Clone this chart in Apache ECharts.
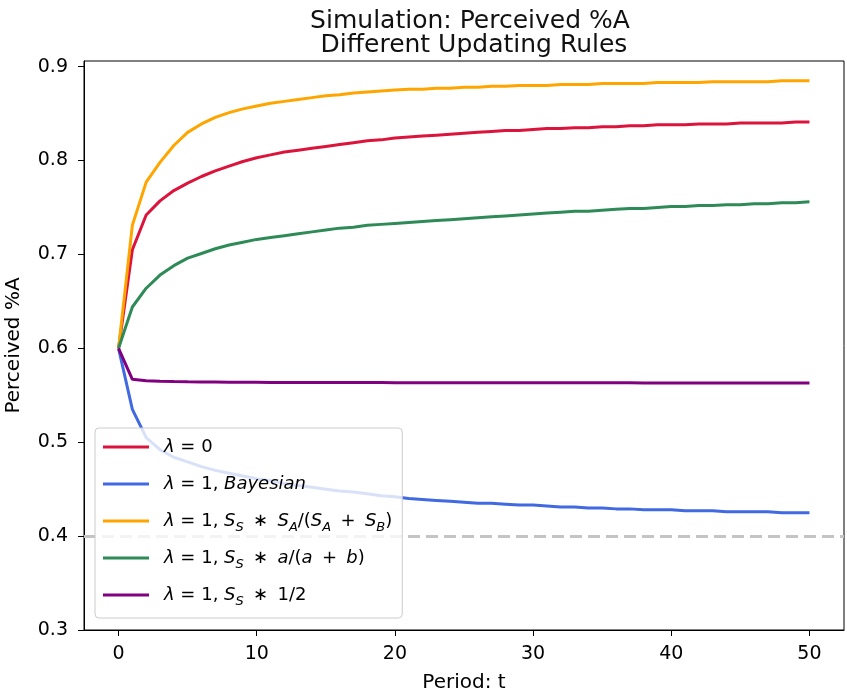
<!DOCTYPE html>
<html>
<head>
<meta charset="utf-8">
<script src="https://cdn.jsdelivr.net/npm/echarts@6/dist/echarts.min.js"></script>
<style>html,body{margin:0;padding:0;background:#fff}#c{width:847px;height:695px}</style>
</head>
<body>
<div id="c"></div>
<script>
// ---- data ----
const periods = [0,1,2,3,4,5,6,7,8,9,10,11,12,13,14,15,16,17,18,19,20,21,22,23,24,25,26,27,28,29,30,31,32,33,34,35,36,37,38,39,40,41,42,43,44,45,46,47,48,49,50];
const lambda0 = [0.600,0.705,0.742,0.757,0.768,0.776,0.783,0.789,0.794,0.799,0.803,0.806,0.809,0.811,0.813,0.815,0.817,0.819,0.821,0.822,0.824,0.825,0.826,0.827,0.828,0.829,0.830,0.831,0.832,0.832,0.833,0.834,0.834,0.835,0.835,0.836,0.836,0.837,0.837,0.838,0.838,0.838,0.839,0.839,0.839,0.840,0.840,0.840,0.840,0.841,0.841];
const bayesian = [0.600,0.535,0.505,0.492,0.484,0.479,0.474,0.470,0.467,0.464,0.461,0.459,0.456,0.454,0.452,0.450,0.448,0.447,0.445,0.443,0.442,0.440,0.439,0.438,0.437,0.436,0.435,0.435,0.434,0.433,0.433,0.432,0.431,0.431,0.430,0.430,0.429,0.429,0.428,0.428,0.428,0.427,0.427,0.427,0.426,0.426,0.426,0.426,0.425,0.425,0.425];
const ssSa = [0.600,0.731,0.777,0.798,0.816,0.830,0.839,0.846,0.851,0.855,0.858,0.861,0.863,0.865,0.867,0.869,0.870,0.872,0.873,0.874,0.875,0.876,0.876,0.877,0.877,0.878,0.878,0.879,0.879,0.880,0.880,0.880,0.881,0.881,0.881,0.882,0.882,0.882,0.882,0.883,0.883,0.883,0.883,0.884,0.884,0.884,0.884,0.884,0.885,0.885,0.885];
const ssAB = [0.600,0.644,0.664,0.678,0.688,0.696,0.701,0.706,0.710,0.713,0.716,0.718,0.720,0.722,0.724,0.726,0.728,0.729,0.731,0.732,0.733,0.734,0.735,0.736,0.737,0.738,0.739,0.740,0.741,0.742,0.743,0.744,0.745,0.746,0.746,0.747,0.748,0.749,0.749,0.750,0.751,0.751,0.752,0.752,0.753,0.753,0.754,0.754,0.755,0.755,0.756];
const ssHalf = [0.600,0.567,0.5655,0.565,0.5646,0.5643,0.5641,0.5640,0.5639,0.5638,0.5638,0.5637,0.5637,0.5636,0.5636,0.5636,0.5635,0.5635,0.5635,0.5635,0.5634,0.5634,0.5634,0.5634,0.5634,0.5633,0.5633,0.5633,0.5633,0.5633,0.5633,0.5632,0.5632,0.5632,0.5632,0.5632,0.5632,0.5632,0.5631,0.5631,0.5631,0.5631,0.5631,0.5631,0.5631,0.5631,0.5631,0.5631,0.5631,0.5631,0.5631];
const seriesNames = ['λ = 0', 'λ = 1, Bayesian', 'λ = 1, S_S * S_A/(S_A + S_B)', 'λ = 1, S_S * a/(a + b)', 'λ = 1, S_S * 1/2'];
const seriesColors = ['#DC143C', '#4169E1', '#FFA500', '#2E8B57', '#800080'];
const referenceLevel = [0.4];
const xTicks = [0, 10, 20, 30, 40, 50];
const yTicks = [0.3, 0.4, 0.5, 0.6, 0.7, 0.8, 0.9];

const allValues = [lambda0, bayesian, ssSa, ssAB, ssHalf];
const sp = '\u2009';
const richNames = {
  'λ = 0': '{i|λ} = 0',
  'λ = 1, Bayesian': '{i|λ} = 1, {i|Bayesian}',
  'λ = 1, S_S * S_A/(S_A + S_B)': '{i|λ} = 1, {i|S}{s|S}' + sp + ' ∗ ' + sp + '{i|S}{s|A}/({i|S}{s|A} ' + sp + '+ ' + sp + '{i|S}{s|B})',
  'λ = 1, S_S * a/(a + b)': '{i|λ} = 1, {i|S}{s|S}' + sp + ' ∗ ' + sp + '{i|a}/({i|a} ' + sp + '+ ' + sp + '{i|b})',
  'λ = 1, S_S * 1/2': '{i|λ} = 1, {i|S}{s|S}' + sp + ' ∗ ' + sp + '1/2'
};
const FONT = 'DejaVu Sans';

const chart = echarts.init(document.getElementById('c'), null, {renderer: 'canvas'});
const series = allValues.map((vals, k) => ({
  name: seriesNames[k],
  type: 'line',
  data: periods.map((t, i) => [t, vals[i]]),
  showSymbol: false,
  symbol: 'none',
  lineStyle: {width: 3, color: seriesColors[k]},
  itemStyle: {color: seriesColors[k]},
  z: 2,
  zlevel: 0,
  animation: false
}));
series.push({
  name: 'ref',
  type: 'line',
  data: [],
  markLine: {
    silent: true, symbol: 'none', animation: false,
    label: {show: false},
    lineStyle: {type: [12, 6], color: '#c4c4c4', width: 3},
    data: referenceLevel.map(v => ({yAxis: v}))
  },
  z: 1
});

chart.setOption({
  animation: false,
  backgroundColor: '#fff',
  textStyle: {fontFamily: FONT, color: '#000'},
  title: {
    text: 'Simulation: Perceived %A\n Different Updating Rules',
    left: 465, top: 4, textAlign: 'center',
    textStyle: {fontFamily: FONT, fontSize: 25, fontWeight: 'normal', color: '#111', lineHeight: 24}
  },
  grid: {left: 84, right: 3, top: 61, bottom: 65, show: true, borderColor: '#000', borderWidth: 1, containLabel: false, outerBoundsMode: 'none'},
  xAxis: {
    type: 'value', min: -2.5, max: 52.5,
    name: 'Period: t', nameLocation: 'middle', nameGap: 43,
    nameTextStyle: {fontFamily: FONT, fontSize: 20, color: '#000'},
    axisLine: {show: true, onZero: false, lineStyle: {color: '#000', width: 1}},
    axisTick: {show: true, inside: false, length: 6, lineStyle: {color: '#000'}, customValues: xTicks},
    axisLabel: {show: true, margin: 15, fontFamily: FONT, fontSize: 19, color: '#000', customValues: xTicks, formatter: v => String(v)},
    splitLine: {show: false}
  },
  yAxis: {
    type: 'value', min: 0.3, max: 0.906,
    name: 'Perceived %A', nameLocation: 'middle', nameGap: 60,
    nameTextStyle: {fontFamily: FONT, fontSize: 20, color: '#000'},
    axisLine: {show: true, onZero: false, lineStyle: {color: '#000', width: 1}},
    axisTick: {show: true, inside: false, length: 6, lineStyle: {color: '#000'}, customValues: yTicks},
    axisLabel: {show: true, margin: 16, fontFamily: FONT, fontSize: 19, color: '#000', customValues: yTicks, formatter: v => v.toFixed(1)},
    splitLine: {show: false}
  },
  legend: {
    show: true, orient: 'vertical', left: 95, top: 428, z: 50, zlevel: 0,
    data: seriesNames.map((n, k) => ({name: n, icon: 'rect', itemStyle: {color: seriesColors[k]}})),
    itemWidth: 46, itemHeight: 3, itemGap: 11,
    padding: [6, 10, 10, 8],
    backgroundColor: 'rgba(255,255,255,0.8)', borderColor: '#cccccc', borderWidth: 1, borderRadius: 4,
    formatter: n => richNames[n],
    textStyle: {
      fontFamily: FONT, fontSize: 18, color: '#000', lineHeight: 26, padding: [0, 0, 0, 10],
      rich: {
        i: {fontFamily: FONT, fontSize: 18, fontStyle: 'italic', color: '#000', lineHeight: 26},
        s: {fontFamily: FONT, fontSize: 13, fontStyle: 'italic', color: '#000', lineHeight: 26, verticalAlign: 'bottom'}
      }
    }
  },
  series: series
});
</script>
</body>
</html>
